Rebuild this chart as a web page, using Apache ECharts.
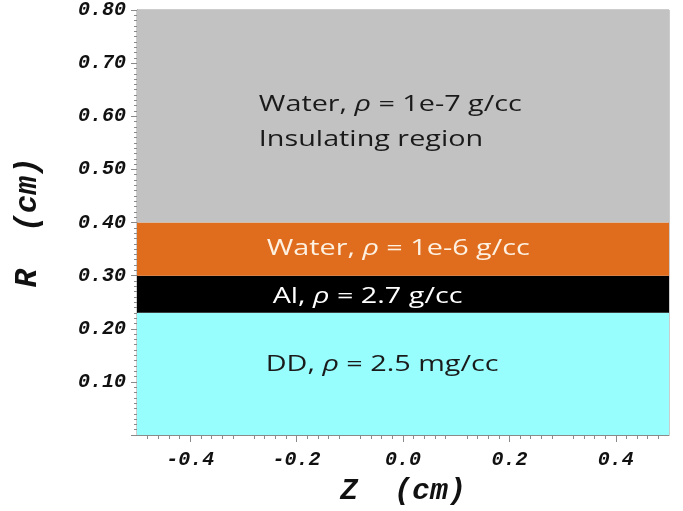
<!DOCTYPE html>
<html>
<head>
<meta charset="utf-8">
<script src="https://cdn.jsdelivr.net/npm/echarts@6/dist/echarts.min.js"></script>
<style>
  html, body { margin: 0; padding: 0; background: #fff; }
  #chart { width: 683px; height: 511px; }
</style>
</head>
<body>
<div id="chart"></div>
<script>
// Radial material layers of the target (R in cm), spanning the full Z extent
const layerNames = ['DD', 'Al', 'Water', 'Water insulating'];
const layerLower = [0.00, 0.23, 0.30, 0.40];
const layerUpper = [0.23, 0.30, 0.40, 0.80];
const layerColors = ['#97fdfd', '#000000', '#e06c1e', '#c2c2c2'];

const zRange = [-0.5, 0.5];
const rRange = [0, 0.8];
const zTickLabels = [-0.4, -0.2, 0.0, 0.2, 0.4];

// Layer descriptions: material and density text
const layerMaterial = ['DD', 'Al', 'Water', 'Water'];
const layerDensity = ['2.5 mg/cc', '2.7 g/cc', '1e-6 g/cc', '1e-7 g/cc'];

// Annotation anchors (data space: left edge Z, middle R) and text colours
const annoLayout = [
  { z: -0.258, r: 0.131, color: '#1a1a1a', extra: null },
  { z: -0.245, r: 0.260, color: '#ffffff', extra: null },
  { z: -0.256, r: 0.350, color: '#fdf1e2', extra: null },
  { z: -0.271, r: 0.621, color: '#1a1a1a', extra: { text: 'Insulating region', dr: -0.065 } }
];

const textFont = '"Open Sans", "Liberation Sans", sans-serif';
const textSize = 21;
const textStretch = 1.37;
const tickFont = {
  fontFamily: '"Liberation Mono", "DejaVu Sans Mono", monospace',
  fontWeight: 'bold',
  fontStyle: 'italic',
  color: '#111'
};
const axisGray = '#8a8a8a';

const chart = echarts.init(document.getElementById('chart'));

const layerData = layerLower.map((lo, i) => [lo, layerUpper[i], i]);

chart.setOption({
  animation: false,
  grid: {
    left: 137, right: 14, top: 10, bottom: 73,
    show: true, borderColor: '#9a9a9a', borderWidth: 1, backgroundColor: 'transparent'
  },
  xAxis: {
    type: 'value',
    min: zRange[0], max: zRange[1], interval: 0.1,
    name: 'Z  (cm)', nameLocation: 'middle', nameGap: 41,
    nameTextStyle: Object.assign({}, tickFont, { fontSize: 30 }),
    axisLine: { show: true, onZero: false, lineStyle: { color: axisGray } },
    axisTick: { show: true, customValues: zTickLabels, length: 7, lineStyle: { color: axisGray } },
    minorTick: { show: true, splitNumber: 5, length: 4, lineStyle: { color: axisGray } },
    splitLine: { show: false },
    axisLabel: Object.assign({}, tickFont, {
      fontSize: 20, margin: 15,
      customValues: zTickLabels,
      formatter: v => v.toFixed(1)
    })
  },
  yAxis: {
    type: 'value',
    min: rRange[0], max: rRange[1], interval: 0.1,
    name: 'R  (cm)', nameLocation: 'middle', nameGap: 93,
    nameTextStyle: Object.assign({}, tickFont, { fontSize: 31 }),
    axisLine: { show: true, onZero: false, lineStyle: { color: axisGray } },
    axisTick: { show: true, length: 6, lineStyle: { color: axisGray } },
    minorTick: { show: true, splitNumber: 10, length: 3, lineStyle: { color: axisGray } },
    splitLine: { show: false },
    axisLabel: Object.assign({}, tickFont, {
      fontSize: 20, margin: 11,
      formatter: v => (v === 0 ? '' : v.toFixed(2))
    })
  },
  series: [
    {
      type: 'custom',
      coordinateSystem: 'cartesian2d',
      data: layerData,
      encode: { y: [0, 1] },
      renderItem: function (params, api) {
        const i = api.value(2);
        const p0 = api.coord([zRange[0], api.value(1)]);
        const p1 = api.coord([zRange[1], api.value(0)]);
        const lay = annoLayout[i];
        const anchor = api.coord([lay.z, lay.r]);
        const children = [
          { type: 'rect',
            shape: { x: p0[0], y: p0[1], width: p1[0] - p0[0], height: p1[1] - p0[1] },
            style: { fill: layerColors[i] } },
          { type: 'text', x: anchor[0], y: anchor[1], scaleX: textStretch,
            style: {
              text: '{n|' + layerMaterial[i] + ', }{r|ρ}{n| = ' + layerDensity[i] + '}',
              verticalAlign: 'middle', align: 'left',
              rich: {
                n: { fontFamily: textFont, fontSize: textSize, fill: lay.color },
                r: { fontFamily: textFont, fontSize: textSize, fontStyle: 'italic', fill: lay.color }
              }
            } }
        ];
        if (lay.extra) {
          const a2 = api.coord([lay.z, lay.r + lay.extra.dr]);
          children.push({ type: 'text', x: a2[0], y: a2[1], scaleX: textStretch,
            style: { text: lay.extra.text, fontFamily: textFont, fontSize: textSize,
                     fill: lay.color, verticalAlign: 'middle', align: 'left' } });
        }
        return { type: 'group', children: children };
      },
      silent: true
    }
  ]
});
</script>
</body>
</html>
